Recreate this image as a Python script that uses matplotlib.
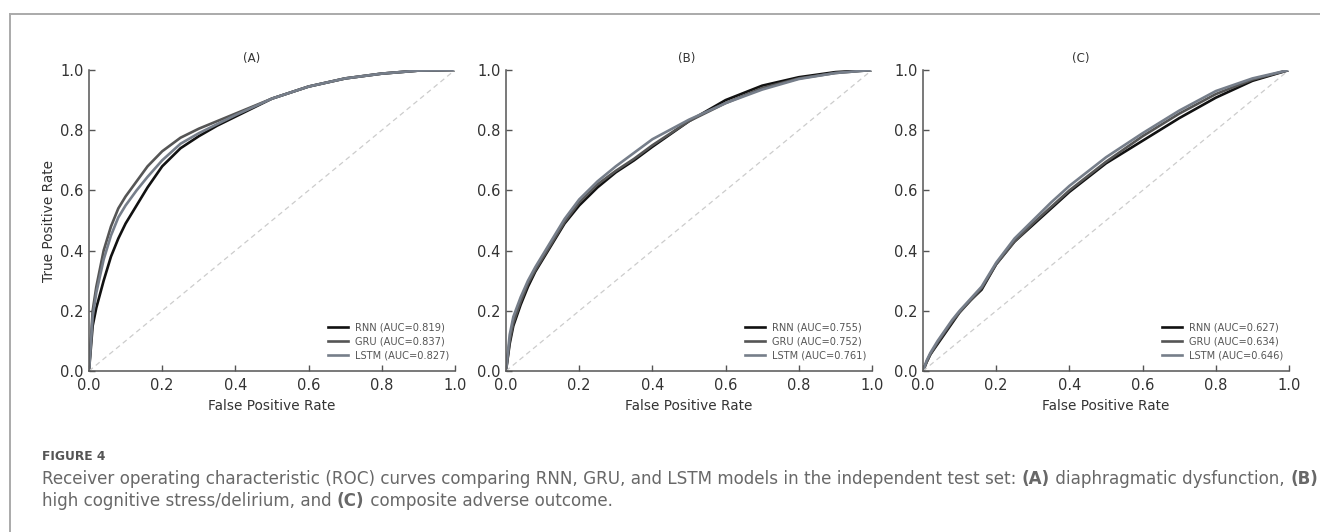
import matplotlib
matplotlib.use("Agg")
import matplotlib.pyplot as plt
from matplotlib.lines import Line2D
from matplotlib.text import Annotation

plt.rcParams['font.family'] = ['DejaVu Sans']

W, H = 1320, 532

# ROC points per outcome (shared FPR grid within each panel)
fpr = [0, .01, .02, .04, .06, .08, .10, .13, .16, .20, .25, .30, .35, .40, .50, .60, .70, .80, .90, 1.0]

tpr_a_rnn = [0, .15, .21, .30, .38, .44, .49, .55, .61, .68, .74, .78, .815, .845, .905, .945, .972, .988, .998, 1.0]
tpr_a_gru = [0, .20, .28, .40, .48, .54, .58, .63, .68, .73, .775, .805, .83, .855, .905, .945, .972, .988, .998, 1.0]
tpr_a_lstm = [0, .18, .26, .37, .45, .51, .55, .60, .645, .70, .755, .79, .82, .85, .905, .945, .972, .988, .998, 1.0]

tpr_b_rnn = [0, .09, .15, .22, .28, .33, .37, .43, .49, .55, .61, .66, .70, .745, .83, .90, .948, .976, .993, 1.0]
tpr_b_gru = [0, .10, .16, .23, .29, .335, .375, .435, .495, .56, .62, .665, .705, .75, .83, .89, .94, .972, .99, 1.0]
tpr_b_lstm = [0, .12, .18, .245, .30, .345, .385, .445, .505, .57, .63, .68, .725, .77, .835, .89, .935, .97, .99, 1.0]

tpr_c_rnn = [0, .03, .055, .09, .125, .16, .195, .235, .27, .355, .43, .485, .54, .595, .69, .765, .84, .908, .964, 1.0]
tpr_c_gru = [0, .03, .055, .095, .13, .165, .195, .235, .275, .355, .43, .49, .545, .60, .695, .78, .855, .92, .968, 1.0]
tpr_c_lstm = [0, .035, .06, .10, .135, .17, .20, .24, .28, .36, .44, .50, .56, .615, .71, .79, .865, .93, .972, 1.0]

models = ["RNN", "GRU", "LSTM"]
colors = ["#111111", "#555555", "#767e8a"]
auc_a = [0.819, 0.837, 0.827]
auc_b = [0.755, 0.752, 0.761]
auc_c = [0.627, 0.634, 0.646]

panel_titles = ["(A)", "(B)", "(C)"]
panel_lefts = [89, 506, 923]      # axes left edges, px
title_x = [0.445, 0.495, 0.432]   # title centre in axes fraction

panels = [
    ([tpr_a_rnn, tpr_a_gru, tpr_a_lstm], auc_a),
    ([tpr_b_rnn, tpr_b_gru, tpr_b_lstm], auc_b),
    ([tpr_c_rnn, tpr_c_gru, tpr_c_lstm], auc_c),
]

fig = plt.figure(figsize=(W / 100, H / 100), dpi=100)

ax_w, ax_h = 366, 301
ax_bottom = 371

for i, (curves, aucs) in enumerate(panels):
    ax = fig.add_axes([panel_lefts[i] / W, 1 - ax_bottom / H, ax_w / W, ax_h / H])
    for name, tpr, col, auc in zip(models, curves, colors, aucs):
        ax.plot(fpr, tpr, color=col, lw=1.9, label=f"{name} (AUC={auc:.3f})")
    ax.plot([0, 1], [0, 1], ls=(0, (4, 3)), color="#cccccc", lw=0.9)

    ax.set_xlim(0, 1)
    ax.set_ylim(0, 1)
    ax.set_xticks([0, 0.2, 0.4, 0.6, 0.8, 1.0])
    ax.set_yticks([0, 0.2, 0.4, 0.6, 0.8, 1.0])
    for s in ["top", "right"]:
        ax.spines[s].set_visible(False)
    for s in ["left", "bottom"]:
        ax.spines[s].set_color("#555555")
        ax.spines[s].set_linewidth(1.1)
    ax.tick_params(direction="in", length=4, width=1, color="#555555",
                   labelcolor="#333333", labelsize=10.5)
    ax.tick_params(axis="x", pad=5)
    ax.tick_params(axis="y", pad=4)

    ax.set_xlabel("False Positive Rate", fontsize=9.8, color="#333333", labelpad=4)
    if i == 0:
        ax.set_ylabel("True Positive Rate", fontsize=9.8, color="#333333", labelpad=3)
    ax.set_title(panel_titles[i], fontsize=8.5, color="#333333", x=title_x[i], pad=6)

    leg = ax.legend(loc="lower right", bbox_to_anchor=(1.0, 0.015), frameon=False,
                    fontsize=7.1, handlelength=2.0, handletextpad=0.7,
                    labelspacing=0.4, borderpad=0.3, borderaxespad=0.3)
    for t in leg.get_texts():
        t.set_color("#555555")

# page frame
fig.add_artist(Line2D([10 / W, 1], [1 - 14 / H, 1 - 14 / H], color="#aaaaaa", lw=1.4))
fig.add_artist(Line2D([10 / W, 10 / W], [0, 1 - 14 / H], color="#aaaaaa", lw=1.4))

# caption
cap_x = 42 / W
cap_color = "#686868"
cap_size = 12.05
fig.text(cap_x, 1 - 457 / H, "FIGURE 4", fontsize=8.8, fontweight="bold",
         color="#555555", va="center")

line1 = [
    ("Receiver operating characteristic (ROC) curves comparing RNN, GRU, and LSTM models in the independent test set: ", False),
    ("(A)", True),
    (" diaphragmatic dysfunction, ", False),
    ("(B)", True),
]
line2 = [
    ("high cognitive stress/delirium, and ", False),
    ("(C)", True),
    (" composite adverse outcome.", False),
]


def draw_line(parts, y_px):
    # each piece starts where the previous one ends
    last = None
    for txt, bold in parts:
        kw = dict(fontsize=cap_size, color=cap_color,
                  fontweight="bold" if bold else "normal")
        if last is None:
            last = fig.text(cap_x, 1 - y_px / H, txt, va="baseline", ha="left", **kw)
        else:
            last = fig.add_artist(Annotation(txt, xy=(1, 0), xycoords=last,
                                             va="bottom", ha="left", **kw))


draw_line(line1, 484)
draw_line(line2, 506)

fig.savefig("out.png", dpi=100)
